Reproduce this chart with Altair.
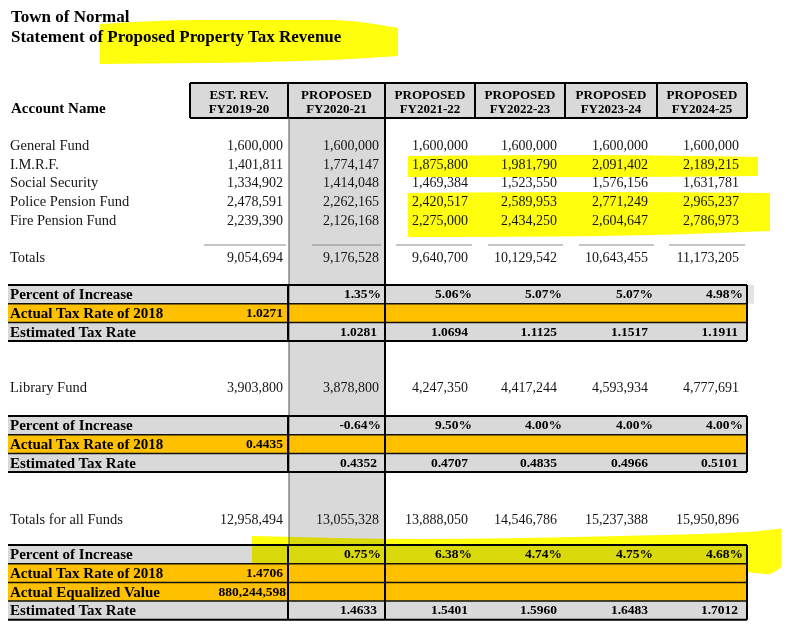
import altair as alt
import pandas as pd

# ------------------------------------------------------------------ data
TITLE_LINES = ["Town of Normal", "Statement of Proposed Property Tax Revenue"]
ACCOUNT_HEADER = "Account Name"
HEADER_TOP = ["EST. REV.", "PROPOSED", "PROPOSED", "PROPOSED", "PROPOSED", "PROPOSED"]
FISCAL_YEARS = ["FY2019-20", "FY2020-21", "FY2021-22", "FY2022-23", "FY2023-24", "FY2024-25"]
FUNDS = ["General Fund", "I.M.R.F.", "Social Security", "Police Pension Fund", "Fire Pension Fund"]
GENERAL_FUND = [1600000, 1600000, 1600000, 1600000, 1600000, 1600000]
IMRF = [1401811, 1774147, 1875800, 1981790, 2091402, 2189215]
SOCIAL_SECURITY = [1334902, 1414048, 1469384, 1523550, 1576156, 1631781]
POLICE_PENSION = [2478591, 2262165, 2420517, 2589953, 2771249, 2965237]
FIRE_PENSION = [2239390, 2126168, 2275000, 2434250, 2604647, 2786973]
TOTALS = [9054694, 9176528, 9640700, 10129542, 10643455, 11173205]
PCT_INCREASE = [1.35, 5.06, 5.07, 5.07, 4.98]          # FY2020-21 .. FY2024-25
ACTUAL_RATE_2018 = 1.0271
EST_RATE = [1.0281, 1.0694, 1.1125, 1.1517, 1.1911]

LIBRARY_FUND = [3903800, 3878800, 4247350, 4417244, 4593934, 4777691]
LIB_PCT_INCREASE = [-0.64, 9.50, 4.00, 4.00, 4.00]
LIB_ACTUAL_RATE_2018 = 0.4435
LIB_EST_RATE = [0.4352, 0.4707, 0.4835, 0.4966, 0.5101]

ALL_FUNDS = [12958494, 13055328, 13888050, 14546786, 15237388, 15950896]
ALL_PCT_INCREASE = [0.75, 6.38, 4.74, 4.75, 4.68]
ALL_ACTUAL_RATE_2018 = 1.4706
ALL_EQUALIZED_VALUE = 880244598
ALL_EST_RATE = [1.4633, 1.5401, 1.5960, 1.6483, 1.7012]

# ------------------------------------------------------------------ layout
COL_EDGES = [190, 288, 385, 475, 565, 657, 747]
NUM_RIGHT = [283, 379, 468, 557, 648, 739]
PCT_RIGHT = [283, 381, 472, 562, 653, 743]
RATE_RIGHT = [283, 377, 468, 557, 648, 738]
RULE_LEFT = [204, 312, 396, 488, 579, 669]
RULE_RIGHT = [286, 381, 472, 563, 654, 745]
BODY_Y = [146, 164.7, 183.4, 202.1, 220.8]
TOTALS_Y = 258
TOTAL_RULE_Y = 245
LIBRARY_Y = 388
ALL_FUNDS_Y = 519.5
BLOCK_TOPS = [285, 416, 545]
ROW_H = 18.7
TABLE_LEFT, TABLE_RIGHT = 7, 747
HEAD_TOP, HEAD_BOTTOM = 83, 118
LABEL_X = 10
FONT = "Liberation Serif"
GRAY, ORANGE, YELLOW, INK = "#d9d9d9", "#ffc000", "#ffff00", "#151515"


def fmt_int(v):
    return f"{v:,}"


def fmt_pct(v):
    return f"{v:.2f}%"


def fmt_rate(v):
    return f"{v:.4f}"


rects, rules, hl = [], [], []
t_title, t_label, t_blabel, t_num, t_bnum, t_head = [], [], [], [], [], []

# title & header
t_title.append({"x": 11, "y": 16.5, "t": TITLE_LINES[0]})
t_title.append({"x": 11, "y": 37, "t": TITLE_LINES[1]})
t_blabel.append({"x": 11, "y": 108, "t": ACCOUNT_HEADER})
for c in range(6):
    xc = (COL_EDGES[c] + COL_EDGES[c + 1]) / 2
    t_head.append({"x": xc, "y": 94.5, "t": HEADER_TOP[c]})
    t_head.append({"x": xc, "y": 108.5, "t": FISCAL_YEARS[c]})
rects.append({"x": COL_EDGES[0], "x2": COL_EDGES[-1], "y": HEAD_TOP, "y2": HEAD_BOTTOM, "f": GRAY})
for yy in (HEAD_TOP, HEAD_BOTTOM):
    rules.append({"x": COL_EDGES[0], "x2": COL_EDGES[-1], "y": yy, "y2": yy, "s": "#000", "w": 2})
for xx in COL_EDGES:
    rules.append({"x": xx, "x2": xx, "y": HEAD_TOP, "y2": HEAD_BOTTOM, "s": "#000", "w": 2})

# shaded FY2020-21 column and its borders
rects.append({"x": COL_EDGES[1] + 1, "x2": COL_EDGES[2], "y": HEAD_BOTTOM, "y2": BLOCK_TOPS[2] + 4 * ROW_H, "f": GRAY})
rules.append({"x": COL_EDGES[1] + 1, "x2": COL_EDGES[1] + 1, "y": HEAD_BOTTOM, "y2": BLOCK_TOPS[2], "s": "#555", "w": 1})
rules.append({"x": COL_EDGES[2], "x2": COL_EDGES[2], "y": HEAD_BOTTOM, "y2": BLOCK_TOPS[2], "s": "#000", "w": 2})

# fund rows
fund_values = [GENERAL_FUND, IMRF, SOCIAL_SECURITY, POLICE_PENSION, FIRE_PENSION]
for i, name in enumerate(FUNDS):
    t_label.append({"x": LABEL_X, "y": BODY_Y[i], "t": name})
    for c in range(6):
        t_num.append({"x": NUM_RIGHT[c], "y": BODY_Y[i], "t": fmt_int(fund_values[i][c])})
for c in range(6):
    rules.append({"x": RULE_LEFT[c], "x2": RULE_RIGHT[c], "y": TOTAL_RULE_Y, "y2": TOTAL_RULE_Y, "s": "#8a8a8a", "w": 1})
t_label.append({"x": LABEL_X, "y": TOTALS_Y, "t": "Totals"})
for c in range(6):
    t_num.append({"x": NUM_RIGHT[c], "y": TOTALS_Y, "t": fmt_int(TOTALS[c])})

t_label.append({"x": LABEL_X, "y": LIBRARY_Y, "t": "Library Fund"})
for c in range(6):
    t_num.append({"x": NUM_RIGHT[c], "y": LIBRARY_Y, "t": fmt_int(LIBRARY_FUND[c])})
t_label.append({"x": LABEL_X, "y": ALL_FUNDS_Y, "t": "Totals for all Funds"})
for c in range(6):
    t_num.append({"x": NUM_RIGHT[c], "y": ALL_FUNDS_Y, "t": fmt_int(ALL_FUNDS[c])})

# boxed blocks
blocks = [
    [("Percent of Increase", GRAY, "pct", PCT_INCREASE),
     ("Actual Tax Rate of 2018", ORANGE, "act", fmt_rate(ACTUAL_RATE_2018)),
     ("Estimated Tax Rate", GRAY, "est", EST_RATE)],
    [("Percent of Increase", GRAY, "pct", LIB_PCT_INCREASE),
     ("Actual Tax Rate of 2018", ORANGE, "act", fmt_rate(LIB_ACTUAL_RATE_2018)),
     ("Estimated Tax Rate", GRAY, "est", LIB_EST_RATE)],
    [("Percent of Increase", GRAY, "pct", ALL_PCT_INCREASE),
     ("Actual Tax Rate of 2018", ORANGE, "act", fmt_rate(ALL_ACTUAL_RATE_2018)),
     ("Actual Equalized Value", ORANGE, "act", fmt_int(ALL_EQUALIZED_VALUE)),
     ("Estimated Tax Rate", GRAY, "est", ALL_EST_RATE)],
]
for b, rows in enumerate(blocks):
    top = BLOCK_TOPS[b]
    bottom = top + len(rows) * ROW_H
    for j, (lab, fill, kind, vals) in enumerate(rows):
        y0 = top + j * ROW_H
        yc = y0 + ROW_H / 2
        rects.append({"x": TABLE_LEFT, "x2": TABLE_RIGHT, "y": y0, "y2": y0 + ROW_H, "f": fill})
        if b == 0 and kind == "pct":
            rects.append({"x": TABLE_RIGHT, "x2": TABLE_RIGHT + 7, "y": y0, "y2": y0 + ROW_H, "f": "#e4e4e4"})
        t_blabel.append({"x": LABEL_X, "y": yc, "t": lab})
        if kind == "pct":
            for c in range(5):
                t_bnum.append({"x": PCT_RIGHT[c + 1], "y": yc, "t": fmt_pct(vals[c])})
        elif kind == "est":
            for c in range(5):
                t_bnum.append({"x": RATE_RIGHT[c + 1], "y": yc, "t": fmt_rate(vals[c])})
        else:
            t_bnum.append({"x": RATE_RIGHT[0] + (3 if len(vals) > 8 else 0), "y": yc, "t": vals})
        if j > 0:
            rules.append({"x": TABLE_LEFT, "x2": TABLE_RIGHT, "y": y0, "y2": y0, "s": "#111", "w": 1.5})
    for yy in (top, bottom):
        rules.append({"x": TABLE_LEFT, "x2": TABLE_RIGHT, "y": yy, "y2": yy, "s": "#000", "w": 2})
    for xx in (TABLE_LEFT, COL_EDGES[1], COL_EDGES[2], TABLE_RIGHT):
        rules.append({"x": xx, "x2": xx, "y": top, "y2": bottom, "s": "#000", "w": 2})

# highlighter strokes
hl_pts = {
    "title": [(100, 24, 64), (200, 20, 63), (330, 20, 60), (398, 28, 56)],
    "imrf": [(408, 156, 177), (600, 155, 177), (758, 157, 176)],
    "pension": [(408, 193, 237), (600, 192, 236), (770, 193, 231)],
    "bottom": [(252, 536, 566), (420, 539, 566), (620, 536, 568), (747, 532, 572), (768, 530, 574), (789, 528, 558)],
}
for k, pts in hl_pts.items():
    for (xx, ya, yb) in pts:
        hl.append({"id": k, "x": xx, "y": ya, "y2": yb})

# ------------------------------------------------------------------ chart
XS = alt.Scale(domain=[8, 781], nice=False, zero=False)
YS = alt.Scale(domain=[8, 626], nice=False, zero=False, reverse=True)


def X():
    return alt.X("x:Q", scale=XS, axis=None)


def Y():
    return alt.Y("y:Q", scale=YS, axis=None)


rect_layer = alt.Chart(pd.DataFrame(rects)).mark_rect(strokeWidth=0).encode(
    x=X(), x2="x2:Q", y=Y(), y2="y2:Q", color=alt.Color("f:N", scale=None))

hl_layer = alt.Chart(pd.DataFrame(hl)).mark_area(
    color=YELLOW, blend="multiply", orient="vertical", interpolate="monotone", opacity=0.95
).encode(x=X(), y=Y(), y2="y2:Q", detail="id:N")

rule_layer = alt.Chart(pd.DataFrame(rules)).mark_rule().encode(
    x=X(), x2="x2:Q", y=Y(), y2="y2:Q",
    color=alt.Color("s:N", scale=None), strokeWidth=alt.StrokeWidth("w:Q", scale=None))


def text_layer(rows, align, size, weight, color=INK):
    return alt.Chart(pd.DataFrame(rows)).mark_text(
        align=align, baseline="middle", font=FONT, fontSize=size, fontWeight=weight, color=color
    ).encode(x=X(), y=Y(), text="t:N")


chart = alt.layer(
    rect_layer,
    hl_layer,
    rule_layer,
    text_layer(t_title, "left", 17, "bold", "#000"),
    text_layer(t_head, "center", 13, "bold", "#000"),
    text_layer(t_label, "left", 14.5, "normal"),
    text_layer(t_blabel, "left", 15, "bold", "#000"),
    text_layer(t_num, "right", 14, "normal"),
    text_layer(t_bnum, "right", 13.5, "bold", "#000"),
).properties(width=773, height=618, padding=0, autosize="none").configure_view(stroke=None)

chart.save("out.html", embed_options={"renderer": "svg", "actions": False})
